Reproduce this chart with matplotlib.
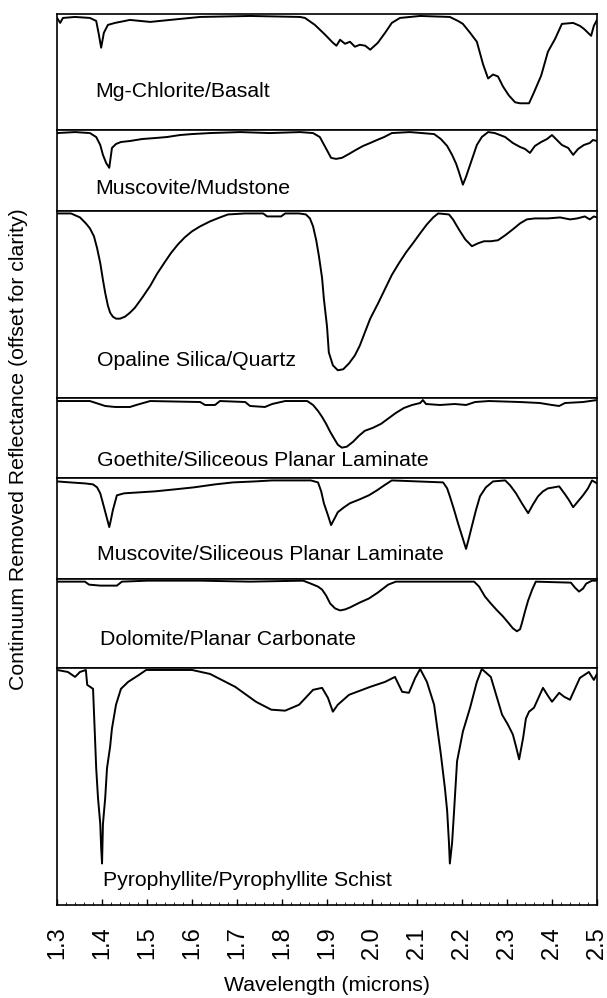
import numpy as np
import matplotlib.pyplot as plt
from matplotlib.ticker import MultipleLocator

plt.rcParams['font.family'] = ['Liberation Sans', 'DejaVu Sans']

# Continuum removed spectra (wavelength in microns)
names = ["Mg-Chlorite/Basalt", "Muscovite/Mudstone", "Opaline Silica/Quartz",
         "Goethite/Siliceous Planar Laminate", "Muscovite/Siliceous Planar Laminate",
         "Dolomite/Planar Carbonate", "Pyrophyllite/Pyrophyllite Schist"]

wl_chlorite = [1.300, 1.307, 1.313, 1.340, 1.373, 1.387, 1.393, 1.398, 1.404, 1.413,
               1.429, 1.462, 1.507, 1.551, 1.618, 1.729, 1.840, 1.851, 1.873, 1.896,
               1.913, 1.921, 1.929, 1.940, 1.951, 1.962, 1.973, 1.985, 1.996, 2.013,
               2.029, 2.044, 2.062, 2.107, 2.173, 2.191, 2.202, 2.218, 2.233, 2.247,
               2.258, 2.269, 2.280, 2.291, 2.304, 2.318, 2.329, 2.349, 2.360, 2.376,
               2.391, 2.407, 2.422, 2.447, 2.462, 2.471, 2.487, 2.493, 2.500]
r_chlorite = [0.997, 0.992, 0.997, 0.998, 0.997, 0.994, 0.980, 0.967, 0.982, 0.990,
              0.992, 0.995, 0.993, 0.995, 0.998, 0.999, 0.998, 0.997, 0.990, 0.980,
              0.972, 0.969, 0.975, 0.971, 0.973, 0.968, 0.970, 0.969, 0.965, 0.972,
              0.982, 0.992, 0.997, 0.999, 0.998, 0.994, 0.991, 0.982, 0.973, 0.950,
              0.936, 0.940, 0.938, 0.928, 0.919, 0.912, 0.911, 0.911, 0.922, 0.939,
              0.963, 0.976, 0.991, 0.992, 0.989, 0.986, 0.979, 0.989, 0.995]

wl_musc_mud = [1.300, 1.340, 1.373, 1.387, 1.396, 1.402, 1.409, 1.416, 1.422, 1.431,
               1.442, 1.462, 1.489, 1.518, 1.544, 1.573, 1.600, 1.640, 1.707, 1.773,
               1.840, 1.869, 1.884, 1.896, 1.909, 1.920, 1.933, 1.949, 1.964, 1.980,
               1.996, 2.011, 2.027, 2.044, 2.084, 2.138, 2.153, 2.167, 2.178, 2.187,
               2.193, 2.202, 2.209, 2.218, 2.227, 2.233, 2.244, 2.258, 2.273, 2.296,
               2.313, 2.329, 2.340, 2.351, 2.362, 2.376, 2.389, 2.400, 2.411, 2.422,
               2.436, 2.447, 2.458, 2.471, 2.484, 2.491, 2.500]
r_musc_mud = [0.998, 0.999, 0.998, 0.994, 0.986, 0.976, 0.968, 0.963, 0.983, 0.987,
              0.989, 0.990, 0.992, 0.993, 0.994, 0.996, 0.997, 0.998, 0.999, 0.998,
              0.999, 0.998, 0.994, 0.984, 0.973, 0.972, 0.973, 0.977, 0.981, 0.985,
              0.988, 0.991, 0.994, 0.998, 0.999, 0.997, 0.992, 0.985, 0.976, 0.967,
              0.959, 0.946, 0.954, 0.966, 0.978, 0.986, 0.994, 0.999, 0.998, 0.994,
              0.988, 0.984, 0.982, 0.978, 0.985, 0.989, 0.992, 0.996, 0.991, 0.986,
              0.983, 0.976, 0.982, 0.986, 0.988, 0.991, 0.990]

wl_opal = [1.300, 1.331, 1.351, 1.364, 1.373, 1.382, 1.389, 1.396, 1.402, 1.407,
           1.413, 1.418, 1.424, 1.431, 1.440, 1.451, 1.462, 1.473, 1.489, 1.507,
           1.522, 1.538, 1.553, 1.569, 1.584, 1.600, 1.618, 1.640, 1.662, 1.680,
           1.718, 1.758, 1.767, 1.798, 1.807, 1.838, 1.853, 1.862, 1.869, 1.876,
           1.882, 1.889, 1.893, 1.900, 1.904, 1.913, 1.924, 1.936, 1.949, 1.962,
           1.973, 1.984, 1.996, 2.013, 2.029, 2.044, 2.060, 2.076, 2.091, 2.107,
           2.122, 2.136, 2.147, 2.171, 2.180, 2.193, 2.207, 2.222, 2.236, 2.249,
           2.264, 2.280, 2.296, 2.313, 2.329, 2.344, 2.362, 2.391, 2.418, 2.440,
           2.456, 2.473, 2.484, 2.493, 2.500]
r_opal = [0.999, 0.999, 0.995, 0.989, 0.984, 0.976, 0.964, 0.949, 0.932, 0.919,
          0.906, 0.899, 0.895, 0.893, 0.893, 0.895, 0.899, 0.904, 0.914, 0.926,
          0.938, 0.949, 0.959, 0.968, 0.975, 0.981, 0.986, 0.991, 0.995, 0.998,
          0.999, 0.999, 0.996, 0.996, 0.999, 0.999, 0.998, 0.994, 0.986, 0.972,
          0.956, 0.934, 0.913, 0.885, 0.859, 0.846, 0.841, 0.842, 0.848, 0.856,
          0.866, 0.879, 0.893, 0.908, 0.923, 0.937, 0.949, 0.960, 0.969, 0.979,
          0.988, 0.995, 0.999, 0.998, 0.993, 0.983, 0.973, 0.966, 0.969, 0.971,
          0.971, 0.972, 0.977, 0.983, 0.989, 0.993, 0.994, 0.994, 0.995, 0.993,
          0.994, 0.996, 0.993, 0.996, 0.995]

wl_goethite = [1.300, 1.373, 1.407, 1.429, 1.462, 1.476, 1.507, 1.618, 1.629, 1.651,
               1.662, 1.718, 1.729, 1.762, 1.778, 1.807, 1.856, 1.869, 1.880, 1.889,
               1.898, 1.907, 1.916, 1.924, 1.933, 1.944, 1.958, 1.971, 1.984, 2.002,
               2.020, 2.038, 2.053, 2.071, 2.089, 2.107, 2.113, 2.120, 2.151, 2.184,
               2.209, 2.229, 2.260, 2.329, 2.373, 2.400, 2.416, 2.429, 2.469, 2.500]
r_goethite = [0.998, 0.998, 0.993, 0.992, 0.992, 0.994, 0.998, 0.997, 0.994, 0.994,
              0.998, 0.997, 0.993, 0.992, 0.995, 0.998, 0.998, 0.994, 0.988, 0.982,
              0.975, 0.967, 0.960, 0.954, 0.951, 0.952, 0.957, 0.963, 0.968, 0.971,
              0.975, 0.981, 0.986, 0.991, 0.994, 0.996, 0.999, 0.995, 0.994, 0.995,
              0.994, 0.997, 0.998, 0.997, 0.996, 0.994, 0.993, 0.996, 0.997, 0.999]

wl_musc_spl = [1.300, 1.329, 1.362, 1.380, 1.389, 1.396, 1.402, 1.409, 1.416, 1.420,
               1.424, 1.433, 1.449, 1.484, 1.518, 1.562, 1.604, 1.651, 1.691, 1.740,
               1.778, 1.864, 1.880, 1.887, 1.893, 1.902, 1.909, 1.916, 1.924, 1.938,
               1.951, 1.973, 1.993, 2.011, 2.027, 2.044, 2.158, 2.167, 2.173, 2.182,
               2.191, 2.200, 2.209, 2.216, 2.222, 2.231, 2.240, 2.253, 2.269, 2.296,
               2.307, 2.320, 2.333, 2.347, 2.358, 2.369, 2.380, 2.391, 2.404, 2.416,
               2.429, 2.438, 2.447, 2.458, 2.469, 2.480, 2.489, 2.500]
r_musc_spl = [0.998, 0.997, 0.996, 0.995, 0.992, 0.986, 0.976, 0.964, 0.952, 0.960,
              0.969, 0.984, 0.986, 0.987, 0.988, 0.990, 0.992, 0.995, 0.997, 0.998,
              0.999, 0.999, 0.997, 0.988, 0.976, 0.964, 0.954, 0.960, 0.967, 0.972,
              0.976, 0.980, 0.984, 0.989, 0.994, 0.999, 0.997, 0.991, 0.983, 0.970,
              0.956, 0.943, 0.930, 0.942, 0.953, 0.969, 0.983, 0.992, 0.998, 0.999,
              0.994, 0.986, 0.976, 0.966, 0.975, 0.983, 0.988, 0.991, 0.992, 0.993,
              0.985, 0.979, 0.972, 0.978, 0.984, 0.991, 0.999, 0.996]

wl_dolomite = [1.300, 1.362, 1.371, 1.396, 1.433, 1.444, 1.502, 1.618, 1.729, 1.847,
               1.864, 1.880, 1.889, 1.898, 1.907, 1.918, 1.929, 1.940, 1.951, 1.973,
               1.993, 2.013, 2.036, 2.053, 2.227, 2.238, 2.251, 2.264, 2.278, 2.291,
               2.304, 2.313, 2.322, 2.329, 2.333, 2.340, 2.347, 2.356, 2.364, 2.442,
               2.451, 2.460, 2.469, 2.476, 2.489, 2.500]
r_dolomite = [0.998, 0.998, 0.995, 0.994, 0.994, 0.998, 0.999, 0.999, 0.998, 0.999,
              0.996, 0.993, 0.990, 0.984, 0.976, 0.971, 0.969, 0.970, 0.972, 0.977,
              0.981, 0.987, 0.995, 0.998, 0.998, 0.993, 0.983, 0.976, 0.969, 0.963,
              0.956, 0.951, 0.948, 0.950, 0.956, 0.968, 0.979, 0.990, 0.998, 0.997,
              0.992, 0.988, 0.991, 0.996, 0.999, 0.999]

wl_pyro = [1.300, 1.324, 1.340, 1.351, 1.364, 1.367, 1.380, 1.387, 1.391, 1.396,
           1.398, 1.400, 1.402, 1.407, 1.411, 1.418, 1.422, 1.431, 1.442, 1.458,
           1.482, 1.498, 1.600, 1.640, 1.696, 1.742, 1.776, 1.807, 1.838, 1.869,
           1.889, 1.902, 1.913, 1.924, 1.949, 1.996, 2.029, 2.051, 2.067, 2.082,
           2.096, 2.107, 2.122, 2.138, 2.153, 2.162, 2.167, 2.171, 2.173, 2.178,
           2.182, 2.189, 2.202, 2.218, 2.233, 2.244, 2.264, 2.289, 2.302, 2.313,
           2.320, 2.327, 2.336, 2.342, 2.349, 2.360, 2.369, 2.380, 2.391, 2.400,
           2.409, 2.416, 2.427, 2.440, 2.451, 2.462, 2.482, 2.493, 2.500]
r_pyro = [0.999, 0.997, 0.992, 0.997, 0.999, 0.984, 0.980, 0.900, 0.870, 0.844,
          0.820, 0.804, 0.844, 0.870, 0.900, 0.922, 0.940, 0.964, 0.980, 0.987,
          0.994, 0.999, 0.999, 0.995, 0.982, 0.967, 0.959, 0.958, 0.964, 0.979,
          0.981, 0.971, 0.957, 0.964, 0.974, 0.982, 0.987, 0.992, 0.977, 0.976,
          0.991, 1.000, 0.987, 0.964, 0.914, 0.880, 0.857, 0.825, 0.804, 0.825,
          0.854, 0.907, 0.937, 0.961, 0.987, 1.000, 0.992, 0.954, 0.944, 0.934,
          0.922, 0.909, 0.931, 0.950, 0.957, 0.961, 0.970, 0.981, 0.973, 0.967,
          0.972, 0.976, 0.972, 0.969, 0.980, 0.991, 0.997, 0.989, 0.995]

wavelengths = [wl_chlorite, wl_musc_mud, wl_opal, wl_goethite, wl_musc_spl, wl_dolomite, wl_pyro]
spectra = [r_chlorite, r_musc_mud, r_opal, r_goethite, r_musc_spl, r_dolomite, r_pyro]

xticks = [1.3, 1.4, 1.5, 1.6, 1.7, 1.8, 1.9, 2.0, 2.1, 2.2, 2.3, 2.4, 2.5]

# layout of each strip: lower y limit and label position (axes fraction)
y_top = 1.001
y_floor = [0.884, 0.919, 0.813, 0.920, 0.900, 0.911, 0.762]
lab_pos = [(0.070, 0.33), (0.070, 0.28), (0.074, 0.20), (0.074, 0.225),
           (0.074, 0.24), (0.080, 0.315), (0.085, 0.105)]

spans = [y_top - f for f in y_floor]
fig, axes = plt.subplots(len(spectra), 1, sharex=True, figsize=(6.07, 9.98), dpi=100,
                         gridspec_kw=dict(height_ratios=spans, hspace=0))
fig.subplots_adjust(left=0.094, right=0.9835, top=0.986, bottom=0.093)

for i, ax in enumerate(axes):
    ax.plot(wavelengths[i], spectra[i], color='black', lw=1.4)
    ax.set_ylim(y_floor[i], y_top)
    ax.set_xlim(1.3, 2.5)
    ax.set_yticks([])
    for s in ax.spines.values():
        s.set_linewidth(1.2)
    ax.text(lab_pos[i][0], lab_pos[i][1], names[i], transform=ax.transAxes,
            ha='left', va='center', fontsize=15.3)
    ax.tick_params(axis='x', which='both', bottom=False, top=False, labelbottom=False)

ax = axes[-1]
ax.set_xticks(xticks)
ax.set_xticklabels(["%.1f" % v for v in xticks], rotation=90, fontsize=17)
ax.xaxis.set_minor_locator(MultipleLocator(0.02))
ax.tick_params(axis='x', which='major', bottom=True, labelbottom=True,
               direction='in', length=4, width=1, pad=15)
ax.tick_params(axis='x', which='minor', bottom=True, direction='in', length=2, width=0.6)
ax.set_xlabel("Wavelength (microns)", fontsize=15.3, labelpad=12)

fig.text(0.03, 0.55, "Continuum Removed Reflectance (offset for clarity)",
         rotation=90, ha='center', va='center', fontsize=15.3)

plt.savefig("out.png", dpi=100)
